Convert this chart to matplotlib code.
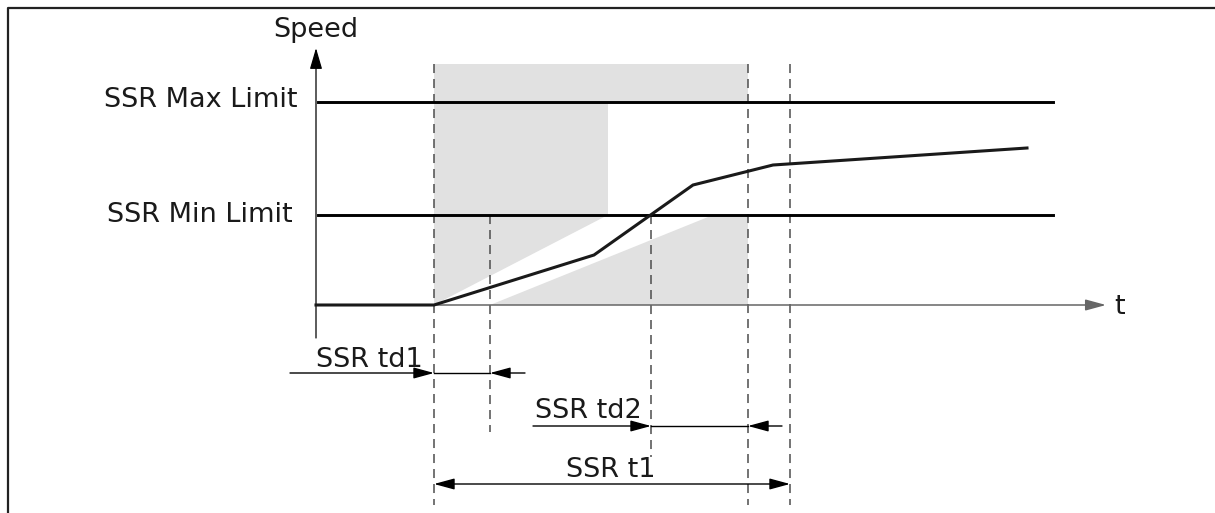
import matplotlib
matplotlib.use("Agg")
import matplotlib.pyplot as plt

# drawing units are pixels of the 1215x513 picture (y grows downward)
plt.rcParams['font.family'] = ['DejaVu Sans']
plt.rcParams['lines.scale_dashes'] = False

# speed curve
curve_t = [316, 434, 594, 693, 773, 1027]
curve_speed = [305, 305, 255, 185, 165, 148]

# levels
speed_zero = 305
speed_min = 215
speed_max = 102
limit_labels = ['SSR Max Limit', 'SSR Min Limit']

# time markers
t_start = 434      # speed starts rising
t_td1 = 490        # end of SSR td1
t_cross = 651      # curve crosses min limit
t_td2 = 748        # end of SSR td2
t_t1 = 790         # end of SSR t1

# monitored window edges
ramp_hi_end = 608  # upper ramp meets min limit
ramp_lo_end = 713  # lower ramp meets min limit
window_top = 64

ink = '#1a1a1a'
dash_col = '#4d4d4d'
shade = '#e1e1e1'

fig = plt.figure(figsize=(12.15, 5.13), dpi=100)
ax = fig.add_axes([0, 0, 1, 1])
ax.set_xlim(0, 1215)
ax.set_ylim(513, 0)
ax.axis('off')

# frame (open to right and bottom)
ax.plot([8, 8, 1215], [513, 8, 8], color='#222222', lw=1.6, solid_capstyle='butt')

# shaded tolerance window
ax.fill([t_start, t_td2, t_td2, ramp_hi_end, ramp_hi_end, t_start],
        [window_top, window_top, speed_max, speed_max, speed_min, speed_zero],
        color=shade, lw=0, zorder=1)
ax.fill([t_td1, ramp_lo_end, t_td2, t_td2],
        [speed_zero, speed_min, speed_min, speed_zero],
        color=shade, lw=0, zorder=1)

# dashed markers
dash = (0, (6.5, 4.3))
for x, y0, y1 in [(t_start, window_top, 505), (t_td1, speed_min, 432),
                  (t_cross, speed_min, 457), (t_td2, window_top, 505),
                  (t_t1, window_top, 505)]:
    ax.plot([x, x], [y0, y1], color=dash_col, lw=1.1, linestyle=dash, zorder=2)

# axes arrows
ax.annotate('', xy=(316, 48), xytext=(316, 338),
            arrowprops=dict(arrowstyle='-|>,head_length=1.3,head_width=0.38',
                            color='black', lw=0.9, shrinkA=0, shrinkB=0), zorder=3)
ax.annotate('', xy=(1106, speed_zero), xytext=(316, speed_zero),
            arrowprops=dict(arrowstyle='-|>,head_length=1.25,head_width=0.34',
                            color='#666666', lw=1.1, shrinkA=0, shrinkB=0), zorder=3)
ax.text(316, 37, 'Speed', fontsize=19.5, color=ink, ha='center', va='baseline')
ax.text(1114, 314, 't', fontsize=19.5, color=ink, ha='left', va='baseline')

# limits
for lvl, lab, xr, yb in [(speed_max, limit_labels[0], 297, 107),
                         (speed_min, limit_labels[1], 293, 222)]:
    ax.plot([318, 1053], [lvl, lvl], color='black', lw=2.1, zorder=4)
    ax.text(xr, yb, lab, fontsize=19.5, color=ink, ha='right', va='baseline')

# speed curve
ax.plot(curve_t, curve_speed, color=ink, lw=2.2, zorder=5, solid_joinstyle='miter')

# dimension arrows
head = '-|>,head_length=1.25,head_width=0.34'
ap = dict(arrowstyle=head, color='black', lw=1.0, shrinkA=0, shrinkB=0)


def interval(y, x_in, x_a, x_b, x_out):
    ax.annotate('', xy=(x_a, y), xytext=(x_in, y), arrowprops=ap)
    ax.plot([x_a, x_b], [y, y], color='black', lw=1.0)
    ax.annotate('', xy=(x_b, y), xytext=(x_out, y), arrowprops=ap)


interval(373, 290, t_start, t_td1, 525)
ax.text(316, 367, 'SSR td1', fontsize=19.5, color=ink, ha='left', va='baseline')

interval(426, 533, t_cross, t_td2, 782)
ax.text(535, 418, 'SSR td2', fontsize=19.5, color=ink, ha='left', va='baseline')

ax.annotate('', xy=(t_t1, 484), xytext=(t_start, 484),
            arrowprops=dict(arrowstyle='<|-|>,head_length=1.25,head_width=0.34',
                            color='black', lw=1.0, shrinkA=0, shrinkB=0))
ax.text(611, 477, 'SSR t1', fontsize=19.5, color=ink, ha='center', va='baseline')

fig.savefig('out.png', dpi=100)
